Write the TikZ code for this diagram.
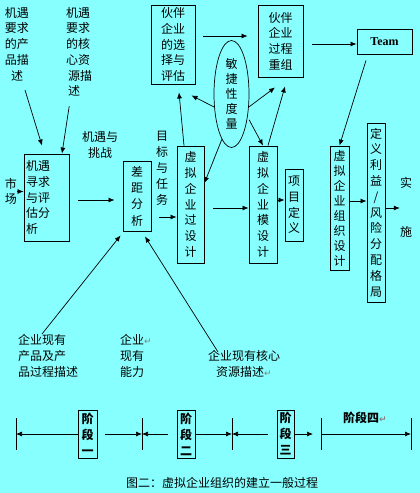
\documentclass[tikz,border=0pt]{standalone}
\usepackage{fontspec}
\setmainfont{Noto Sans CJK SC}
\newfontfamily\symfont{DejaVu Sans}
\newfontfamily\teamfont{Liberation Serif}
\usetikzlibrary{arrows.meta,shapes.geometric}
\definecolor{bgcyan}{RGB}{136,255,255}
\newcommand{\ret}{{\symfont\fontsize{9}{9}\selectfont\textcolor{gray}{↵}}}
\tikzset{
	every node/.style={inner sep=0pt,font=\fontsize{12}{15.7}\selectfont},
	box/.style={draw,line width=0.9pt,align=center},
	arr/.style={-{Latex[length=6pt,width=5pt]},line width=0.7pt}
}
\begin{document}
\begin{tikzpicture}[x=1pt,y=-1pt]
		\fill[bgcyan] (0,0) rectangle (420,493);
	
		\node[align=center,anchor=north] (prodreq) at (17,7) {机遇\\要求\\的产\\品描\\述};
		\node[align=left,anchor=north west] (coreq) at (66,7) {机遇\\要求\\的核\\心资\\\hspace{2pt}源描\\\hspace{2pt}述};
		\node[align=center] (mkt) at (11,191.5) {市\\场};
		\node[align=center] (chal) at (100,145) {机遇与\\挑战};
		\node[align=center,font=\fontsize{12}{16}\selectfont] (goal) at (162,168) {目\\标\\与\\任\\务};
		\node[align=center,font=\fontsize{12}{49}\selectfont] (impl) at (406,207.5) {实\\施};
		
		\node[box,minimum width=45pt,minimum height=87pt,text width=41pt,align=left] (opp) at (46.5,197.5) {机遇\\寻求\\与评\\估分\\析};
		\node[box,minimum width=28pt,minimum height=70pt,font=\fontsize{12}{16.3}\selectfont] (gap) at (137,196) {差\\距\\分\\析};
		\node[box,minimum width=27pt,minimum height=117pt] (vproc) at (190.5,204.5) {虚\\拟\\企\\业\\过\\设\\计};
		\node[box,minimum width=28pt,minimum height=117pt] (vmodel) at (263,204.5) {虚\\拟\\企\\业\\模\\设\\计};
		\node[box,minimum width=18pt,minimum height=72pt] (proj) at (294,205) {项\\目\\定\\义};
		\node[box,minimum width=19pt,minimum height=124pt,font=\fontsize{12}{15}\selectfont] (vorg) at (339.5,208) {虚\\拟\\企\\业\\组\\织\\设\\计};
		\node[box,minimum width=18pt,minimum height=179pt,font=\fontsize{12}{15.8}\selectfont] (share) at (376,212.5) {定\\义\\利\\益\\/\\风\\险\\分\\配\\格\\局};
		
		\node[box,minimum width=44pt,minimum height=79pt] (partner) at (173,44.5) {伙伴\\企业\\的选\\择与\\评估};
		\node[box,minimum width=45pt,minimum height=72pt] (reorg) at (280.5,41) {伙伴\\企业\\过程\\重组};
		\node[box,minimum width=55pt,minimum height=25pt,font=\teamfont\bfseries\fontsize{12}{14}\selectfont] (team) at (384.5,41.5) {Team};
		\node[draw,ellipse,line width=0.7pt,minimum width=35pt,minimum height=107pt,align=center,font=\fontsize{12}{15}\selectfont] (agile) at (231.5,94) {敏\\捷\\性\\度\\量};
		
		\node[align=left,anchor=north west,font=\fontsize{12}{16}\selectfont] (prodnow) at (18,334) {企业现有\\产品及产\\品过程描述};
		\node[align=left,anchor=north west,font=\fontsize{12}{16}\selectfont] (ability) at (120,334) {企业\ret\\现有\\能力};
		\node[align=center,anchor=north,font=\fontsize{12}{16}\selectfont] (corenow) at (244,350) {企业现有核心\\资源描述\ret};
		
		\draw[arr] ([xshift=8pt,yshift=-9pt]prodreq.south) -- ([xshift=-4.5pt,yshift=8pt]opp.north);
		\draw[arr] ([xshift=-10pt,yshift=-9.5pt]coreq.south) -- ([xshift=15.5pt]opp.north);
		\draw[arr] (mkt.east) -- ([yshift=6pt]opp.west);
		\draw[arr,shorten <=9pt,shorten >=8pt] ([yshift=-2.5pt]opp.east) -- ([yshift=-4pt]gap.west);
		\draw[arr,shorten <=8pt] ([yshift=-21pt]gap.east) -- ([yshift=-12.5pt]vproc.west);
		\draw[arr,shorten <=9pt] ([yshift=-3.5pt]vproc.east) -- ([yshift=-3.5pt]vmodel.west);
		\draw[arr] ([yshift=4.5pt]vmodel.east) -- ([yshift=5pt]proj.west);
		\draw[arr] ([yshift=7pt]vorg.east) -- ([yshift=11.5pt]share.west);
		\draw[arr] ([yshift=4.5pt]share.east) -- ([yshift=4.5pt]share.east -| impl.west);
		
		\draw[arr,shorten <=8pt,shorten >=10pt] ([yshift=8.5pt]partner.east) -- ([yshift=5pt]reorg.west);
		\draw[arr,shorten <=9pt] ([yshift=-3pt]reorg.east) -- ([yshift=-2.5pt]team.west);
		\draw[arr] ([xshift=-18.5pt,yshift=-6pt]team.south) -- (vorg.north);
		\draw[arr] ([xshift=-6.5pt]vproc.north) -- ([xshift=6pt,yshift=-8pt]partner.south);
		\draw[arr] ([xshift=5pt]vmodel.north) -- ([xshift=4.5pt,yshift=-9pt]reorg.south);
		\draw[arr] (agile.217) -- ([xshift=-4pt,yshift=-11pt]partner.south east);
		\draw[arr] (agile.-37) -- ([xshift=-5.5pt,yshift=-10pt]reorg.south);
		\draw[arr,shorten <=3pt] (agile.-55) -- (vmodel.north);
		\draw[arr] (agile.258) -- ([yshift=21.5pt]vproc.east);
		
		\draw[arr] ([xshift=24pt]prodnow.north west) -- ([xshift=-2pt,yshift=-4pt]gap.south west);
		\draw[arr] ([xshift=-26pt,yshift=-2pt]corenow.north) -- ([xshift=8pt,yshift=-5pt]gap.south);
		
		\coordinate (t0) at (16,434);
		\coordinate (t1) at (142,434);
		\coordinate (t2) at (232,434);
		\coordinate (t3) at (321,434);
		\coordinate (t4) at (411,434);
		\foreach \t in {t0,t1,t2,t3,t4}
			\draw[line width=0.8pt] ([yshift=16pt]\t) -- ([yshift=-16pt]\t);
		
		\node[box,minimum width=19pt,minimum height=48pt,font=\bfseries\fontsize{12}{16}\selectfont] (s1) at (87.5,434) {阶\\段\\一};
		\node[box,minimum width=18pt,minimum height=48pt,font=\bfseries\fontsize{12}{16}\selectfont] (s2) at (186,434) {阶\\段\\二};
		\node[box,minimum width=17pt,minimum height=48pt,font=\bfseries\fontsize{12}{16}\selectfont] (s3) at (285.5,434) {阶\\段\\三};
		\node[anchor=west,font=\bfseries\fontsize{12}{15}\selectfont] (s4) at (343,418) {阶段四\ret};
		
		\draw[arr] (s1.west) -- (t0);
		\draw[arr,shorten <=8pt] (s1.east) -- (t1);
		\draw[arr,shorten <=9pt] (s2.west) -- (t1);
		\draw[arr] (s2.east) -- (t2);
		\draw[arr,shorten <=9pt] (s3.west) -- (t2);
		\draw[arr,shorten >=8pt] (s3.east) -- (t3);
		\draw[arr] (t3) -- (t4);
		
		\node (cap) at (222,483) {图二：虚拟企业组织的建立一般过程};
	\end{tikzpicture}
\end{document}
